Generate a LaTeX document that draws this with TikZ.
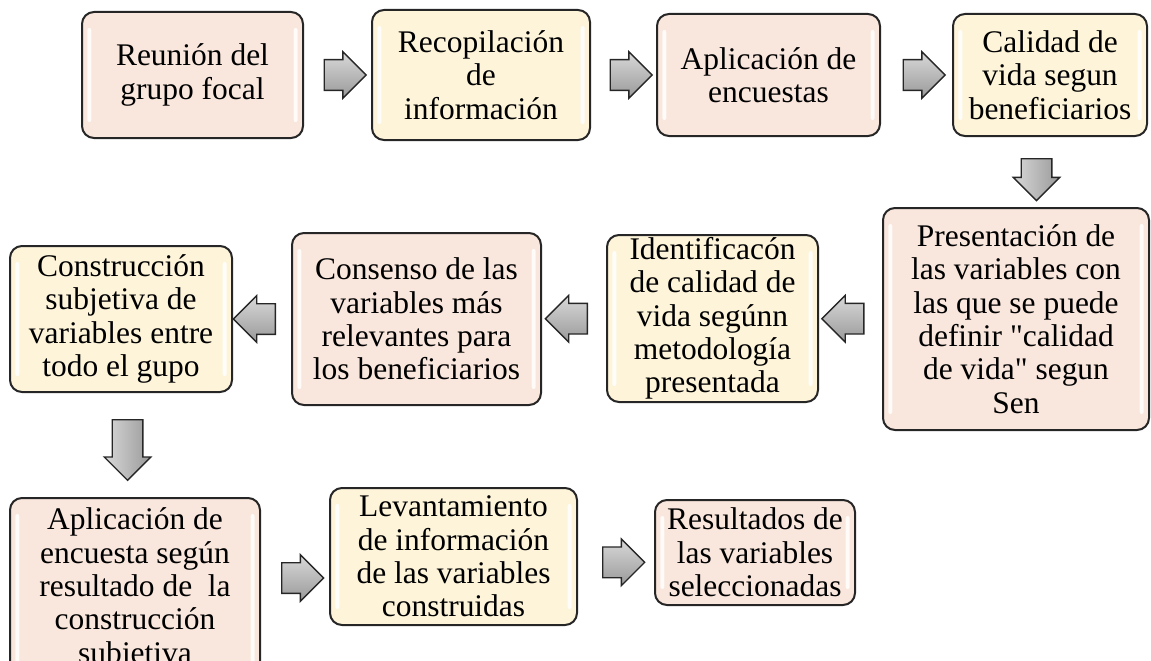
\documentclass[tikz,border=0pt]{standalone}
\usepackage{fontspec}
\setmainfont{Liberation Serif}[Ligatures=TeXOff]
\usetikzlibrary{positioning,shapes.arrows}

\definecolor{durazno}{HTML}{F9E6DC}
\definecolor{crema}{HTML}{FDF4DA}

\tikzset{
  paso/.style={draw=black!85, line width=1.5pt, rounded corners=9pt, align=center,
    inner sep=0pt, font=\fontsize{23.6}{25}\selectfont,
    path picture={
      \fill[white, opacity=.85, rounded corners=1.5pt]
        ([shift={(4pt,-12pt)}]path picture bounding box.north west) rectangle
        ([shift={(7pt,12pt)}]path picture bounding box.south west);
      \fill[white, opacity=.85, rounded corners=1.5pt]
        ([shift={(-4pt,-12pt)}]path picture bounding box.north east) rectangle
        ([shift={(-7pt,12pt)}]path picture bounding box.south east);
    }},
  rosa/.style={paso, fill=durazno},
  amarilla/.style={paso, fill=crema},
  sz/.style 2 args={minimum width=#1*0.75pt, minimum height=#2*0.75pt},
  flecha/.style={single arrow, draw=black!85, line width=1pt, shade,
    top color=gray!30, bottom color=gray!80, inner xsep=0pt, inner ysep=11pt,
    minimum height=31.5pt, single arrow head extend=6pt},
  der/.style={flecha},
  izq/.style={flecha, shape border rotate=180},
  abajo/.style={flecha, shape border rotate=270, inner xsep=11pt, inner ysep=0pt,
    left color=gray!30, right color=gray!80}
}

\begin{document}
\begin{tikzpicture}[x=0.75pt, y=-0.75pt]
\useasboundingbox (0,0) rectangle (1151,660);
% primera fila
\node[rosa, sz={221}{126}] (reunion) at (192.5,75) {Reunión del\\grupo focal};
\node[amarilla, sz={218}{130}] (recop) at (481,75) {Recopilación\\de\\información};
\node[rosa, sz={223}{122}] (encuestas) at (768.5,75) {Aplicación de\\encuestas};
\node[amarilla, sz={194}{122}] (calidad) at (1050,75) {Calidad de\\vida segun\\beneficiarios};
% segunda fila
\node[rosa, sz={266}{222}] (presentacion) at (1016,319) {Presentación de\\las variables con\\las que se puede\\definir "calidad\\de vida" segun\\Sen};
\node[amarilla, sz={211}{167}] (identif) at (712.5,318.5) {Identificacón\\de calidad de\\vida segúnn\\metodología\\presentada};
\node[rosa, sz={249}{172}] (consenso) at (416.5,319) {Consenso de las\\variables más\\relevantes para\\los beneficiarios};
\node[amarilla, sz={222}{146}] (construccion) at (121,319) {Construcción\\subjetiva de\\variables entre\\todo el gupo};
% tercera fila
\node[rosa, sz={250}{182}] (encuesta) at (135,589) {Aplicación de\\encuesta según\\resultado de\ \ la\\construcción\\subjetiva};
\node[amarilla, sz={247}{137}] (levant) at (453.5,556.5) {Levantamiento\\de información\\de las variables\\construidas};
\node[rosa, sz={200}{105}] (result) at (755,552.5) {Resultados de\\las variables\\seleccionadas};
% flechas
\path (reunion) -- node[der] {} (recop);
\path (recop) -- node[der] {} (encuestas);
\path (encuestas) -- node[der] {} (calidad);
\path (calidad) -- node[abajo] {} (presentacion);
\path (presentacion) -- node[izq] {} (identif);
\path (identif) -- node[izq] {} (consenso);
\path (consenso) -- node[izq] {} (construccion);
\path (construccion) -- node[abajo, minimum height=45.5pt, yshift=2pt] {} (encuesta);
\path (encuesta) -- node[der, yshift=-4pt] {} (levant);
\path (levant) -- node[der, yshift=-6pt] {} (result);
\end{tikzpicture}
\end{document}
